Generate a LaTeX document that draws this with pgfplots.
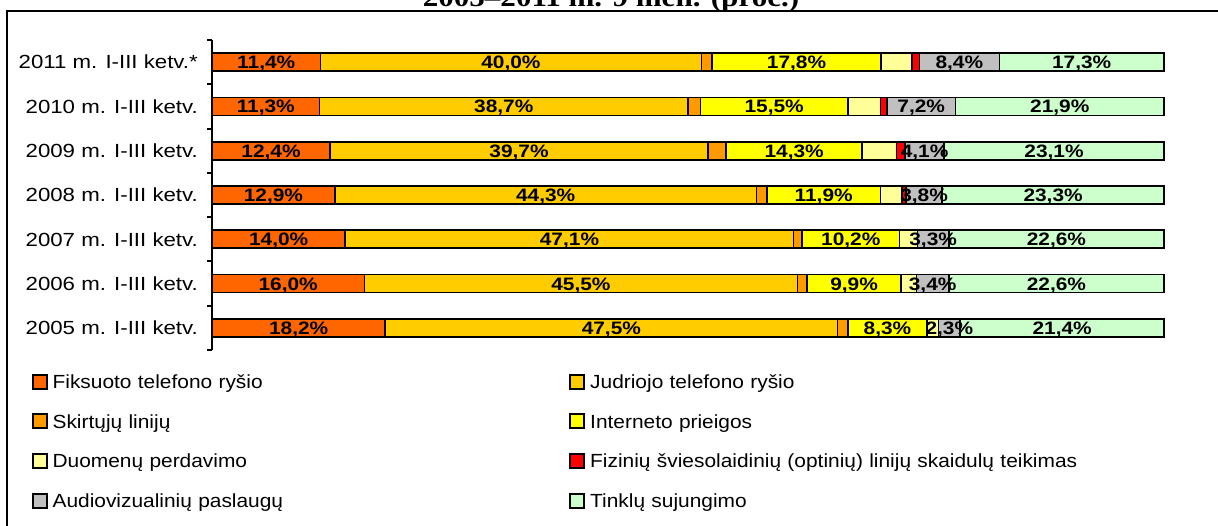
\documentclass[border=0pt]{standalone}
\usepackage{fontspec}
\usepackage{pgfplots}
\usepackage{pgfplotstable}
\pgfplotsset{compat=1.18}
\setmainfont{Liberation Sans}
\newfontfamily\tickfont{Liberation Sans}[FakeStretch=1.17]
\newfontfamily\legfont{Liberation Sans}[FakeStretch=1.10]
\newfontfamily\barfont{Liberation Sans}[FakeStretch=1.16]
\newfontfamily\titlefont{Liberation Serif}[FakeStretch=1.15]

\definecolor{cFiks}{HTML}{FF6600}
\definecolor{cJudr}{HTML}{FFCC00}
\definecolor{cSkirt}{HTML}{FF9900}
\definecolor{cInter}{HTML}{FFFF00}
\definecolor{cDuom}{HTML}{FFFF99}
\definecolor{cFiz}{HTML}{FF0000}
\definecolor{cAudio}{HTML}{C0C0C0}
\definecolor{cTinkl}{HTML}{CCFFCC}

\pgfplotstableread{
y fiks judr skirt inter duom fiz audio tinkl
0 18.2 47.5 1.1 8.3 1.2 0.0 2.3 21.4
1 16.0 45.5 1.0 9.9 1.6 0.0 3.4 22.6
2 14.0 47.1 0.9 10.2 1.9 0.0 3.3 22.6
3 12.9 44.3 1.1 11.9 2.3 0.4 3.8 23.3
4 12.4 39.7 1.9 14.3 3.6 0.9 4.1 23.1
5 11.3 38.7 1.3 15.5 3.4 0.7 7.2 21.9
6 11.4 40.0 1.1 17.8 3.2 0.8 8.4 17.3
}\datatable

\pgfplotsset{
  lab/.style={
    nodes near coords={\pgfmathprintnumber[fixed,fixed zerofill,precision=1,use comma,assume math mode=true]{\pgfplotspointmeta}\%},
    point meta=\thisrow{#1},
    every node near coord/.append style={anchor=center,
      font=\barfont\bfseries\fontsize{18}{20}\selectfont, text=black, inner sep=0pt,
      text height=12.9pt, text depth=0pt}
  }
}

\begin{document}
\begin{tikzpicture}
\useasboundingbox (0pt,0pt) rectangle (1218pt,-526pt);
\draw[line width=2pt] (7pt,-11.5pt) rectangle (1240pt,-560pt);
\node[font=\titlefont\bfseries\fontsize{27}{30}\selectfont, anchor=base, inner sep=0pt] at (611pt,-7pt) {2005–2011 m. 9 mėn. (proc.)};
\begin{axis}[
  at={(212pt,-350pt)}, anchor=south west,
  width=952pt, height=310pt, scale only axis,
  xbar stacked, bar width=18pt,
  xmin=0, xmax=100, ymin=-0.5, ymax=6.5,
  enlargelimits=false, clip=false,
  axis x line=none,
  axis y line*=left,
  y axis line style={-, line width=2pt, black},
  ytick={0,...,6},
  yticklabels={2005 m. I-III ketv.,2006 m. I-III ketv.,2007 m. I-III ketv.,2008 m. I-III ketv.,2009 m. I-III ketv.,2010 m. I-III ketv.,2011 m. I-III ketv.*},
  major tick length=0pt,
  minor ytick={-0.5,0.5,...,6.5},
  minor tick length=5pt,
  tick align=outside,
  every minor tick/.style={line width=2pt, black},
  yticklabel shift=14pt,
  yticklabel style={font=\tickfont\fontsize{19}{22}\selectfont, anchor=east, inner sep=0pt, text height=13.6pt, text depth=0pt},
  every axis plot/.append style={draw=black, line width=1.6pt,
    legend image code/.code={
      \draw[##1, draw=black, line width=2pt] (1pt,-7pt) rectangle (15pt,7pt);
      \path (0pt,-8pt) (20pt,8pt);
    }},
  legend columns=2,
  legend style={at={(-0.19013,-0.07419)}, anchor=north west, draw=none, fill=none,
    inner sep=0pt, outer sep=0pt, row sep=22pt, column sep=0pt,
    nodes={inner sep=0pt, text width=516pt, align=left, text height=13.6pt, text depth=0pt,
      font=\legfont\fontsize{19}{22}\selectfont}},
  legend cell align=left,
]
\addplot[fill=cFiks, lab=fiks] table[x=fiks, y=y] {\datatable};
\addplot[fill=cJudr, lab=judr] table[x=judr, y=y] {\datatable};
\addplot[fill=cSkirt] table[x=skirt, y=y] {\datatable};
\addplot[fill=cInter, lab=inter] table[x=inter, y=y] {\datatable};
\addplot[fill=cDuom] table[x=duom, y=y] {\datatable};
\addplot[fill=cFiz] table[x=fiz, y=y] {\datatable};
\addplot[fill=cAudio, lab=audio] table[x=audio, y=y] {\datatable};
\addplot[fill=cTinkl, lab=tinkl] table[x=tinkl, y=y] {\datatable};
\legend{Fiksuoto telefono ryšio, Judriojo telefono ryšio, Skirtųjų linijų, Interneto prieigos, Duomenų perdavimo, Fizinių šviesolaidinių (optinių) linijų skaidulų teikimas, Audiovizualinių paslaugų, Tinklų sujungimo}
\end{axis}
\end{tikzpicture}
\end{document}
